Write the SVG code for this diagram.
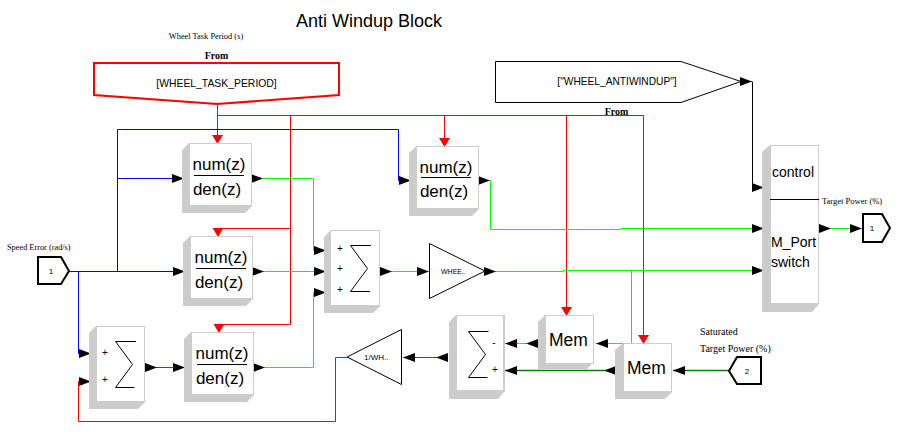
<svg xmlns="http://www.w3.org/2000/svg" width="907" height="442" viewBox="0 0 907 442">
<style>
text{font-family:"Liberation Sans",Arial,sans-serif;fill:#000}
.s{font-family:"Liberation Serif","Times New Roman",serif}
.m{text-anchor:middle}
.shade{fill:#ccc}
.face{fill:#fff;stroke:#ccc;stroke-width:1}
.ln{fill:none;stroke:#000;stroke-width:1}
.w{fill:none;stroke-width:1}
.frac{font-size:17px;text-anchor:middle}
.k{stroke:#000}.r{stroke:#f00}.b{stroke:#00f}.g{stroke:#0f0}.d{stroke:#008000;stroke-width:1.5}
.e{marker-end:url(#ae)}.o{marker-start:url(#as)}.re{marker-end:url(#re)}
</style>
<defs>
<marker id="ae" markerUnits="userSpaceOnUse" markerWidth="13" markerHeight="11" refX="12" refY="5" orient="auto"><path d="M0 .5 12 5 0 9.500z" fill="#000"/></marker>
<marker id="as" markerUnits="userSpaceOnUse" markerWidth="13" markerHeight="11" refX="0" refY="5" orient="auto"><path d="M0 .5 12 5 0 9.500z" fill="#000"/></marker>
<marker id="re" markerUnits="userSpaceOnUse" markerWidth="13" markerHeight="13" refX="9" refY="6" orient="auto"><path d="M0 .5 9 6 0 11.500z" fill="#f00"/></marker>
</defs>
<rect width="907" height="442" fill="#fff"/>
<g id="connectors">
<path class="w r re" d="M217.500 104V144"/>
<path class="w r" d="M217.500 115.500H643.500"/>
<path class="w r re" d="M444.500 115.500V147"/>
<path class="w r re" d="M566.500 115.500V316"/>
<path class="w r re" d="M643.500 115.500V344"/>
<path class="w r re" d="M290.500 115.500V228.500H218V237"/>
<path class="w r re" d="M290.500 228.500V324.500H219V333"/>
<path class="w b e" d="M70 271.500H185"/>
<path class="w b e" d="M117.500 271.500V129.500H398.500V180.500H411"/>
<path class="w b e" d="M117.500 178.500H184"/>
<path class="w b e" d="M78.500 271.500V353.500H91"/>
<path class="w r e" d="M347 357.500H335.500V421.500H78.500V381.500H91"/>
<path class="w g o e" d="M251 178.500H313.500V250.500H326"/>
<path class="w g o e" d="M252 271.500H326"/>
<path class="w g o e" d="M253 367.500H313.500V292.500H326"/>
<path class="w g o e" d="M380 271.500H429"/>
<path class="w r o e" d="M145 367.500H185"/>
<path class="w g o e" d="M478 180.500H490.500V229.500H621V228.500H764"/>
<path class="w g o e" d="M484 271.500H563V270.500H764"/>
<path class="w g e" d="M631.500 270.500V343.500H596"/>
<path class="w g o e" d="M819 228.500H862"/>
<path class="w k e" d="M741 81.500H752"/>
<path class="w k e" d="M752.500 81.500V187.500H764"/>
<path class="w g o e" d="M538 343.500H505"/>
<path class="w d o e" d="M616 370.500H505"/>
<path class="w d e" d="M729 370.500H673"/>
<path class="w r o e" d="M448 357.500H403"/>
</g>
<text x="296" y="27" font-size="18px">Anti Windup Block</text>
<g id="from-period">
<path d="M94 63H339V95L217 104 94 95Z" fill="#fff" stroke="#f00" stroke-width="2"/>
<text class="m" x="216.500" y="87" font-size="10.400px">[WHEEL_TASK_PERIOD]</text>
<text class="s m" x="206" y="39" font-size="8.400px">Wheel Task Period (s)</text>
<text class="s m" x="216.500" y="59" font-size="10px" font-weight="bold">From</text>
</g>
<g id="from-antiwindup">
<path d="M495.500 61.500H681L741 81.500 681 102.500H495.500Z" fill="#fff" stroke="#000"/>
<text class="m" x="617" y="85" font-size="10.200px">["WHEEL_ANTIWINDUP"]</text>
<text class="s m" x="616.500" y="115" font-size="10px" font-weight="bold">From</text>
</g>
<g id="tf1">
<path class="shade" d="M182 150 189 143H252V206L245 213H182Z"/><rect class="face" x="189.500" y="143.500" width="62" height="62"/>
<text class="frac" x="219" y="170">num(z)</text><path class="ln" d="M194 175.500H244"/><text class="frac" x="217" y="195">den(z)</text>
</g>
<g id="tf2">
<path class="shade" d="M409 153 416 146H479V209L472 216H409Z"/><rect class="face" x="416.500" y="146.500" width="62" height="62"/>
<text class="frac" x="446" y="173">num(z)</text><path class="ln" d="M421 177.500H471"/><text class="frac" x="444" y="197">den(z)</text>
</g>
<g id="tf3">
<path class="shade" d="M183 243 190 236H253V299L246 306H183Z"/><rect class="face" x="190.500" y="236.500" width="62" height="62"/>
<text class="frac" x="221" y="263">num(z)</text><path class="ln" d="M196 268.500H246"/><text class="frac" x="219" y="288">den(z)</text>
</g>
<g id="tf4">
<path class="shade" d="M184 339 191 332H254V395L247 402H184Z"/><rect class="face" x="191.500" y="332.500" width="62" height="62"/>
<text class="frac" x="222" y="359">num(z)</text><path class="ln" d="M197 364.500H247"/><text class="frac" x="220" y="384">den(z)</text>
</g>
<g id="sum-left">
<path class="shade" d="M89 333 96 326H145V402L138 409H89Z"/><rect class="face" x="96.500" y="326.500" width="48" height="75"/>
<path class="ln" d="M136 341.500H115.500L132.500 364.500 115.500 387.500H134.500"/>
<text class="m" x="105" y="356" font-size="10px">+</text><text class="m" x="105" y="383" font-size="10px">+</text>
</g>
<g id="sum-mid">
<path class="shade" d="M324 237 331 230H380V306L373 313H324Z"/><rect class="face" x="330.500" y="230.500" width="49" height="75"/>
<path class="ln" d="M371 245.500H350.500L367.500 268.500 350.500 291.500H370"/>
<text class="m" x="340" y="252" font-size="10px">+</text><text class="m" x="340" y="272" font-size="10px">+</text><text class="m" x="340" y="293" font-size="10px">+</text>
</g>
<g id="sum-low">
<path class="shade" d="M449 322 456 315H505V391L498 399H449Z"/><rect class="face" x="456.500" y="315.500" width="47" height="75"/>
<path class="ln" d="M488.500 331.500H468.500L485.500 354.500 468.500 377.500H487.500"/>
<text class="m" x="494" y="346" font-size="10px">-</text><text class="m" x="495" y="373" font-size="10px">+</text>
</g>
<g id="gain-wheel">
<path class="ln" d="M429.500 243.500V298.500L485 271Z" fill="#fff"/>
<text x="441" y="274" font-size="7px">WHEE..</text>
</g>
<g id="gain-inverse">
<path class="ln" d="M401.500 329.500V384.500L347 357Z" fill="#fff"/>
<text x="364" y="360" font-size="8px">1/WH..</text>
</g>
<g id="mem1">
<path class="shade" d="M538 322 545 315H594V362L587 369H538Z"/><rect class="face" x="545.500" y="315.500" width="48" height="48"/>
<text class="m" x="568.500" y="346" font-size="17.500px">Mem</text>
</g>
<g id="mem2">
<path class="shade" d="M615 350 623 343H672V392L665 399H615Z"/><rect class="face" x="623.500" y="343.500" width="48" height="48"/>
<text class="m" x="646.500" y="374" font-size="17.500px">Mem</text>
</g>
<g id="switch">
<path class="shade" d="M762 152 770 145H819V304L812 312H762Z"/><rect class="face" x="770.500" y="145.500" width="48" height="158"/>
<path class="ln" d="M770 199.500H819"/>
<text x="772" y="177" font-size="14px">control</text>
<text x="771" y="247" font-size="14px">M_Port</text>
<text x="771" y="267" font-size="14px">switch</text>
<text class="s" x="822" y="204" font-size="8.500px">Target Power (%)</text>
</g>
<g id="in1">
<path d="M38 257H61L69 271 61 284H38Z" fill="#fff" stroke="#000" stroke-width="2"/>
<text class="m" x="51" y="274" font-size="8px">1</text>
<text class="s" x="7" y="250" font-size="8.300px">Speed Error (rad/s)</text>
</g>
<g id="in2">
<path d="M761 357H737L729 371 737 384H761Z" fill="#fff" stroke="#000" stroke-width="2"/>
<text class="m" x="747" y="374" font-size="8px">2</text>
<text class="s" x="700" y="335" font-size="10px">Saturated</text>
<text class="s" x="700" y="352" font-size="10px">Target Power (%)</text>
</g>
<g id="out1">
<path d="M863 214H882L890 228 882 242H863Z" fill="#fff" stroke="#000" stroke-width="2"/>
<text class="m" x="872" y="231" font-size="8px">1</text>
</g>
</svg>
